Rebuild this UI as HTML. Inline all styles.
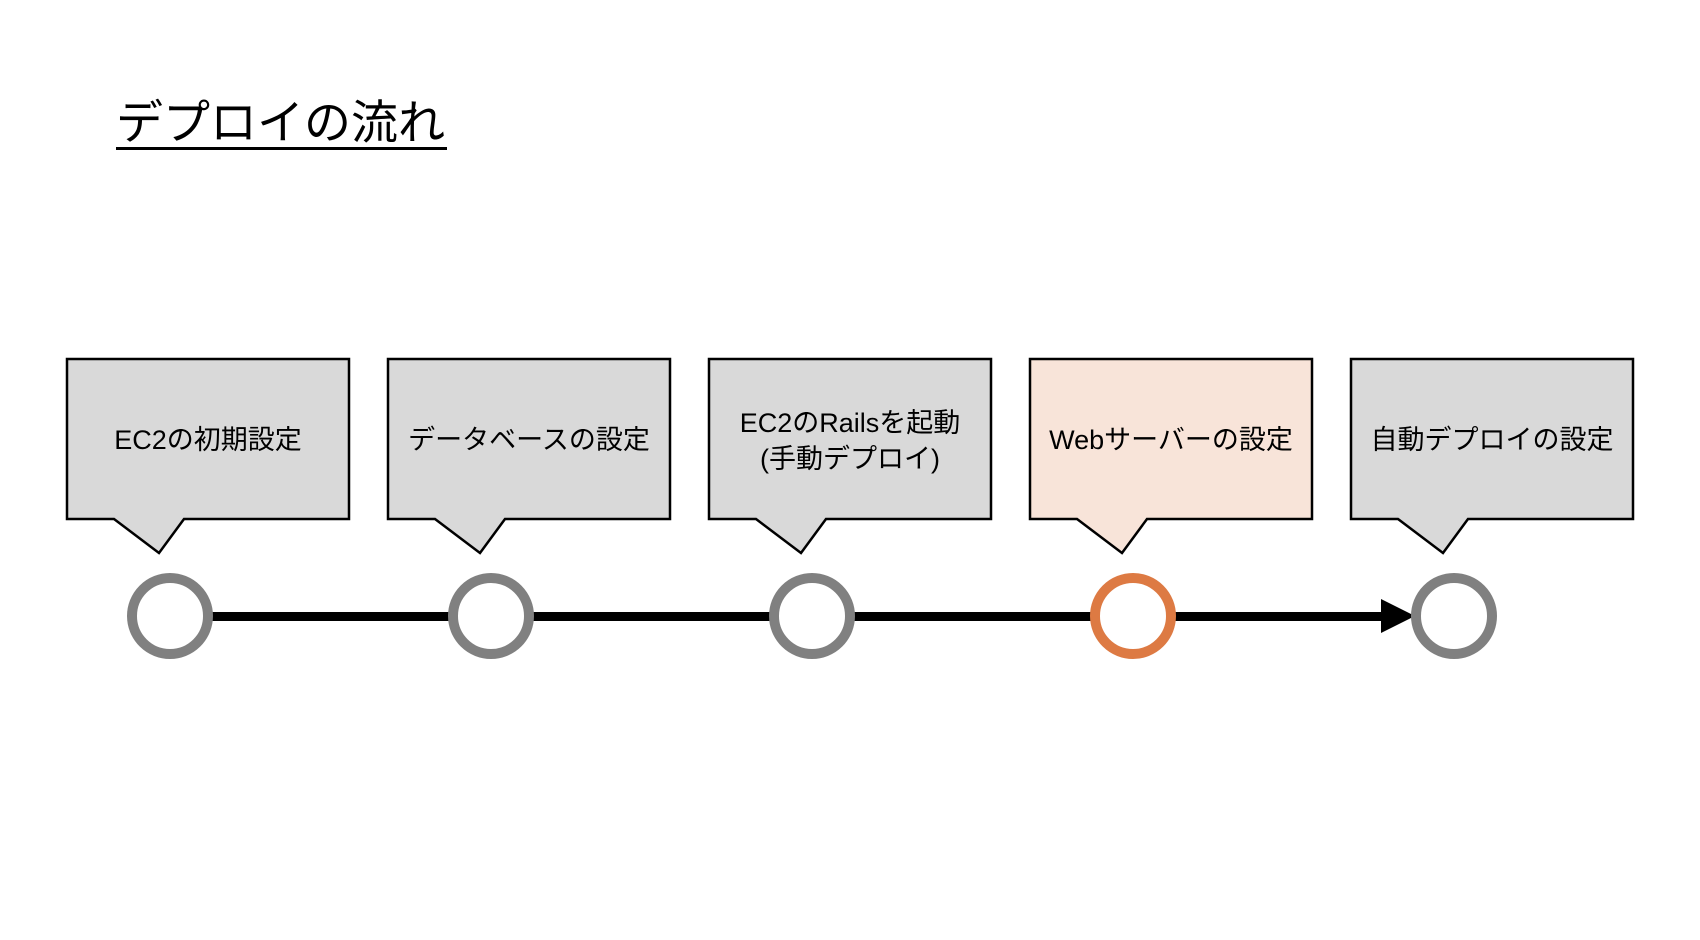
<!DOCTYPE html>
<html><head><meta charset="utf-8"><style>
html,body{margin:0;padding:0;background:#fff;}
svg{display:block;}
text{font-family:"Liberation Sans","Noto Sans CJK JP",sans-serif;}
</style></head><body>
<svg width="1700" height="940" viewBox="0 0 1700 940" xmlns="http://www.w3.org/2000/svg">
<text x="116" y="139" font-size="47" fill="#000">デプロイの流れ</text>
<rect x="116" y="147" width="331" height="3" fill="#000"/>
<g stroke="#000" stroke-width="2.5" stroke-linejoin="miter">
<path d="M67 359 H349 V519 H184 L159 553 L114 519 H67 Z" fill="#d9d9d9"/>
<path d="M388 359 H670 V519 H505 L480 553 L435 519 H388 Z" fill="#d9d9d9"/>
<path d="M709 359 H991 V519 H826 L801 553 L756 519 H709 Z" fill="#d9d9d9"/>
<path d="M1030 359 H1312 V519 H1147 L1122 553 L1077 519 H1030 Z" fill="#f8e4d9"/>
<path d="M1351 359 H1633 V519 H1468 L1443 553 L1398 519 H1351 Z" fill="#d9d9d9"/>
</g>
<g font-size="27" fill="#000" text-anchor="middle">
<text x="208" y="449">EC2の初期設定</text>
<text x="529" y="449">データベースの設定</text>
<text x="850" y="432">EC2のRailsを起動</text>
<text x="850" y="468">(手動デプロイ)</text>
<text x="1171" y="449">Webサーバーの設定</text>
<text x="1492" y="449">自動デプロイの設定</text>
</g>
<rect x="170" y="612" width="1215" height="9" fill="#000"/>
<polygon points="1381,599 1415,616 1381,633" fill="#000"/>
<g fill="#fff" stroke-width="10">
<circle cx="170" cy="616" r="38" stroke="#808080"/>
<circle cx="491" cy="616" r="38" stroke="#808080"/>
<circle cx="812" cy="616" r="38" stroke="#808080"/>
<circle cx="1133" cy="616" r="38" stroke="#dd7a43"/>
<circle cx="1454" cy="616" r="38" stroke="#808080"/>
</g>
</svg>
</body></html>
